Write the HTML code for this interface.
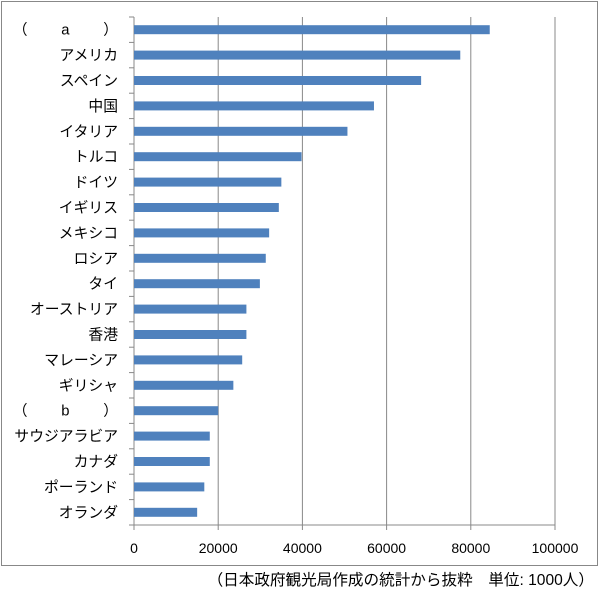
<!DOCTYPE html>
<html><head><meta charset="utf-8"><style>
body{margin:0;background:#fff;}
svg{display:block;font-family:"Liberation Sans","Noto Sans CJK JP",sans-serif;}
</style></head><body>
<svg id="chart" width="600" height="590">
<rect x="1.5" y="1.5" width="596" height="564" fill="#fff" stroke="#888"/>
<g id="grid"></g><g id="bars"></g><g id="labels"></g><g id="ticks"></g>
<text x="594" y="585" text-anchor="end" font-size="15.6" fill="#000">（日本政府観光局作成の統計から抜粋　単位: 1000人）</text>
</svg>
<script>
const categories=["（　　 a　　 ）","アメリカ","スペイン","中国","イタリア","トルコ","ドイツ","イギリス","メキシコ","ロシア","タイ","オーストリア","香港","マレーシア","ギリシャ","（　　 b　　 ）","サウジアラビア","カナダ","ポーランド","オランダ"];
const values=[84500,77500,68200,57000,50700,39800,35000,34400,32100,31300,29900,26700,26700,25700,23600,20000,18000,18000,16700,15000];
const tickValues=[0,20000,40000,60000,80000,100000];
const NS="http://www.w3.org/2000/svg";
const x0=134,x1=555,yTop=17,yBot=525,xMax=100000;
const xs=v=>x0+(v/xMax)*(x1-x0);
const band=(yBot-yTop)/categories.length;
function mk(tag,attrs,parent){const e=document.createElementNS(NS,tag);for(const k in attrs)e.setAttribute(k,attrs[k]);document.getElementById(parent).appendChild(e);return e;}
tickValues.forEach(t=>{
  if(t>0){const l=mk('line',{x1:xs(t),x2:xs(t),y1:yTop,y2:yBot,stroke:'#888','stroke-width':1},'grid');
  
  }
  const tk=mk('line',{x1:xs(t),x2:xs(t),y1:yBot,y2:yBot+5,stroke:'#888'},'ticks');
  
  
  const tx=mk('text',{x:xs(t),y:yBot+28,'text-anchor':'middle','font-size':14,fill:'#000'},'ticks');
  tx.textContent=t;
  
  
});
const ax=mk('line',{x1:x0,x2:x0,y1:yTop,y2:yBot,stroke:'#888'},'grid');


const bx=mk('line',{x1:x0,x2:x1,y1:yBot,y2:yBot,stroke:'#888'},'grid');


for(let i=0;i<=categories.length;i++){
  const t=mk('line',{x1:x0-5,x2:x0,y1:yTop+i*band,y2:yTop+i*band,stroke:'#888'},'grid');
  
  
}
categories.forEach((c,i)=>{
  const cy=yTop+(i+0.5)*band;
  const r=mk('rect',{x:x0,y:cy-4.5,width:xs(values[i])-x0,height:9,fill:'#4f81bd'},'bars');
  
  
  const t=mk('text',{x:x0-16,y:cy+5,'text-anchor':'end','font-size':14.8,fill:'#000'},'labels');
  t.textContent=c;
  
  
});
</script>
</body></html>
